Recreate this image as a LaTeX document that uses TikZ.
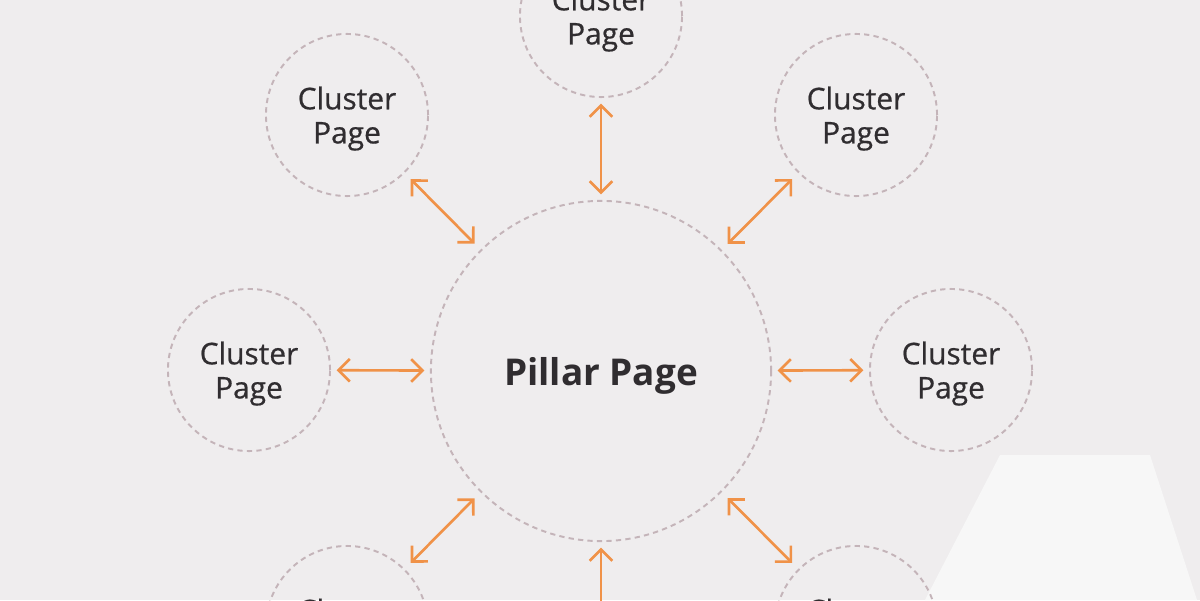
\documentclass[tikz,border=0pt]{standalone}
\usepackage{fontspec}
\setsansfont{Open Sans}
\newfontfamily\semifont{Open Sans}[FakeBold=0.6]
\usetikzlibrary{arrows.meta,positioning}
\definecolor{bgcol}{RGB}{239,237,238}
\definecolor{ringcol}{RGB}{196,180,185}
\definecolor{arrcol}{RGB}{240,146,72}
\definecolor{txtcol}{RGB}{48,45,48}
\definecolor{markcol}{RGB}{247,247,247}

\begin{document}
\begin{tikzpicture}[
    x=0.01cm, y=-0.01cm,
    cluster/.style={circle, draw=ringcol, line width=0.55pt, dash pattern=on 1.5pt off 1.2pt, minimum size=1.62cm, inner sep=0pt, text depth=0pt, align=center, font=\semifont\fontsize{8.5}{9.7}\selectfont, text=txtcol},
    pillar/.style={circle, draw=ringcol, line width=0.55pt, dash pattern=on 1.5pt off 1.2pt, minimum size=3.4cm, inner sep=0pt, text depth=0pt, font=\sffamily\bfseries\fontsize{10.5}{12}\selectfont, text=txtcol},
    arr/.style={{Straight Barb[length=3.2pt,width=6.4pt]}-{Straight Barb[length=3.2pt,width=6.4pt]}, line width=0.75pt, arrcol, shorten >=1.6pt, shorten <=1.6pt},
    arrd/.style={arr, shorten >=2.4pt, shorten <=2.4pt},
]
\useasboundingbox (0,0) rectangle (1200,600);
\clip (0,0) rectangle (1200,600);
\fill[bgcol] (0,0) rectangle (1200,600);
% faint mark, lower right
\fill[markcol] (1000,455) -- (1150,455) -- (1197,600) -- (925,600) -- cycle;

% Pillar
\node[pillar] (pillar) at (601,371) {Pillar Page};

% Clusters
\node[cluster] (ctop) at (601,16) {Cluster\\Page};
\node[cluster] (ctl) at (347,115) {Cluster\\Page};
\node[cluster] (ctr) at (856,115) {Cluster\\Page};
\node[cluster] (cleft) at (249,370) {Cluster\\Page};
\node[cluster] (cright) at (951,370) {Cluster\\Page};
\node[cluster] (cbl) at (347,627) {Cluster\\Page};
\node[cluster] (cbot) at (601,726) {Cluster\\Page};
\node[cluster] (cbr) at (856,627) {Cluster\\Page};

% Arrows
\draw[arr] (ctop) -- (pillar); \draw[arr] (cbot) -- (pillar);
\draw[arr] (cleft) -- (pillar); \draw[arr] (cright) -- (pillar);
\draw[arrd] (ctl) -- (pillar); \draw[arrd] (ctr) -- (pillar);
\draw[arrd] (cbl) -- (pillar); \draw[arrd] (cbr) -- (pillar);
\end{tikzpicture}
\end{document}
